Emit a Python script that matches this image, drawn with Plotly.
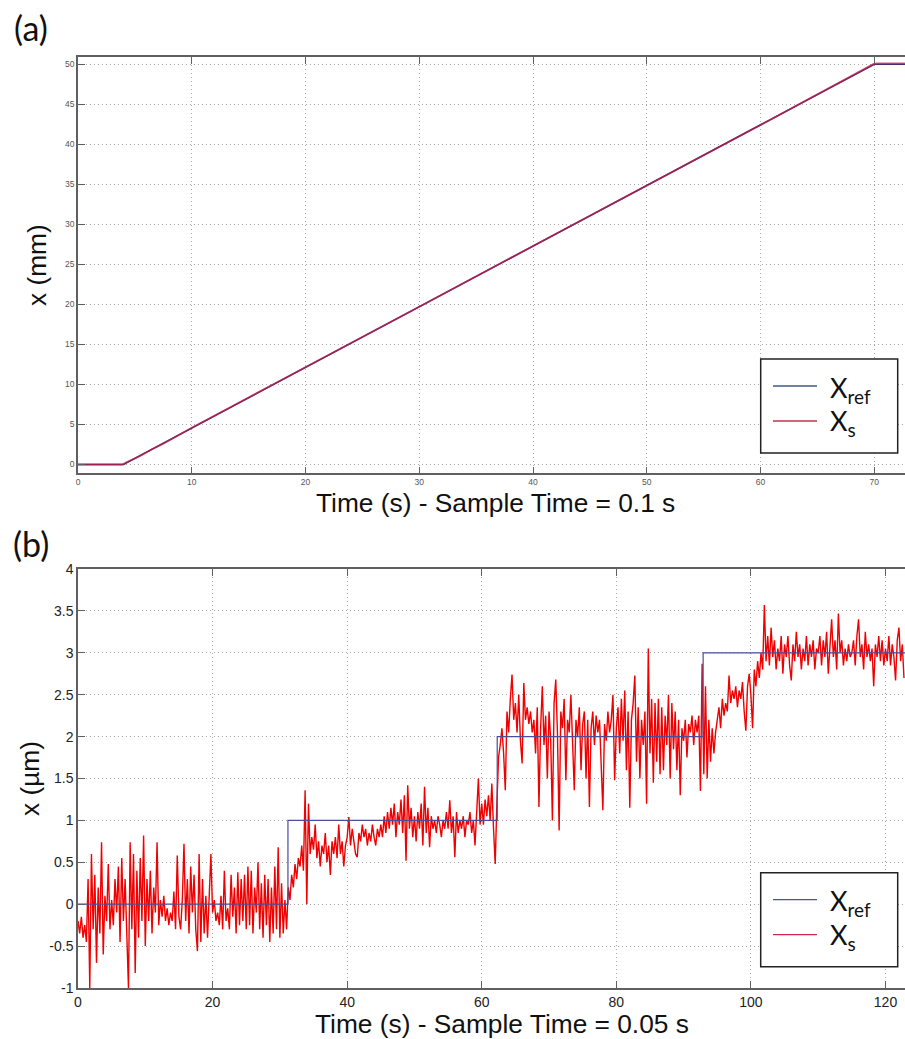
import plotly.graph_objects as go

W, H = 905, 1039

# ---------------- panel (a) data ----------------
a_ref_t = [0, 4.0, 70.0, 72.7]
a_ref_x = [0, 0, 50, 50]
a_s_t = [0, 3.9, 4.3, 4.8, 5.5, 6.5, 7.5, 10, 20, 30, 40, 50, 60, 69.9, 70.2, 72.7]
a_s_x = [0, 0, 0.3, 0.6, 1.1, 1.9, 2.6, 4.6, 12.1, 19.7, 27.3, 34.85, 42.4, 50.0, 50.1, 50.1]
a_xticks = [0, 10, 20, 30, 40, 50, 60, 70]
a_yticks = [0, 5, 10, 15, 20, 25, 30, 35, 40, 45, 50]

# ---------------- panel (b) data ----------------
DT_B = 0.25  # spacing of the values (s)
b_s_x = [
    -0.20, -0.35, -0.15, -0.40, -0.25, -0.45, 0.30, -1.00, 0.60, -0.30, 0.35, -0.70, 0.20, -0.35, 0.74, -0.60, 0.10, -0.20, 0.48, -0.30,
    0.05, -0.25, 0.30, -0.10, 0.45, -0.45, 0.55, -0.20, 0.30, -0.50, -1.00, 0.74, -0.30, 0.60, -0.82, 0.40, -0.40, 0.55, -0.20, 0.82,
    -0.50, 0.30, -0.20, 0.40, -0.35, 0.20, -0.10, 0.74, -0.25, 0.05, -0.15, 0.10, -0.20, -0.05, -0.25, -0.10, -0.20, 0.15, -0.30, 0.58,
    -0.15, -0.30, 0.05, 0.72, -0.20, 0.30, -0.35, 0.45, -0.10, 0.35, -0.30, -0.56, 0.60, -0.45, 0.30, -0.35, 0.10, -0.40, 0.20, 0.60,
    -0.10, 0.05, -0.20, -0.10, -0.25, 0.10, -0.30, 0.40, -0.20, -0.05, -0.30, 0.35, -0.15, 0.20, -0.35, 0.38, -0.25, 0.30, -0.20, 0.35,
    -0.30, 0.45, -0.25, 0.40, -0.35, 0.20, -0.10, 0.50, -0.30, 0.25, -0.40, 0.35, -0.25, 0.30, -0.45, 0.20, -0.35, 0.45, -0.30, 0.68,
    -0.40, 0.25, -0.35, 0.05, -0.30, 0.20, 0.05, 0.35, 0.20, 0.48, 0.30, 0.55, 0.45, 0.70, 0.40, 1.36, 0.00, 1.20, 0.60, 0.80,
    0.65, 0.95, 0.55, 0.75, 0.45, 0.70, 0.60, 0.85, 0.50, 0.70, 0.35, 0.75, 0.60, 0.80, 0.55, 0.95, 0.60, 0.75, 0.45, 0.70,
    0.80, 1.04, 0.70, 0.90, 0.75, 0.60, 0.56, 0.85, 0.75, 0.95, 0.80, 0.90, 0.70, 0.85, 0.75, 0.95, 0.80, 0.70, 0.90, 0.80,
    0.95, 0.80, 1.05, 0.85, 1.10, 0.90, 1.15, 0.95, 1.20, 0.80, 1.10, 0.95, 1.25, 0.85, 1.30, 0.52, 1.42, 0.90, 1.15, 0.80,
    1.05, 0.75, 1.10, 0.90, 1.20, 0.70, 1.40, 0.85, 1.15, 0.68, 1.05, 0.90, 1.00, 0.85, 1.05, 0.95, 0.80, 1.00, 0.90, 1.10,
    0.90, 1.24, 0.85, 1.05, 0.56, 1.10, 0.85, 1.00, 0.90, 1.05, 0.80, 1.00, 0.95, 1.10, 0.85, 1.00, 0.70, 1.05, 1.50, 0.95,
    1.20, 0.95, 1.25, 1.05, 1.30, 1.00, 1.44, 0.90, 0.48, 1.20, 1.76, 1.90, 2.10, 1.80, 1.36, 2.30, 2.05, 2.45, 2.74, 2.20,
    2.40, 2.05, 2.50, 1.95, 1.68, 2.64, 2.20, 2.35, 2.15, 2.30, 2.05, 2.20, 1.80, 2.35, 1.16, 2.10, 2.60, 1.90, 2.25, 1.50,
    2.30, 1.95, 1.00, 2.40, 2.68, 2.05, 0.88, 2.30, 2.10, 2.45, 1.48, 2.20, 2.05, 2.50, 1.90, 1.36, 2.20, 2.00, 2.35, 1.60,
    2.15, 2.30, 1.50, 2.20, 1.16, 2.10, 2.30, 1.90, 2.25, 2.05, 2.20, 1.70, 1.12, 2.15, 1.95, 2.30, 2.05, 2.20, 2.50, 1.48,
    2.10, 2.35, 1.80, 2.45, 1.95, 2.55, 1.60, 2.30, 1.15, 2.20, 2.40, 2.73, 1.70, 2.35, 1.50, 2.20, 1.90, 2.30, 1.20, 3.05,
    1.80, 2.45, 1.45, 2.40, 1.70, 2.45, 1.55, 2.35, 1.60, 2.25, 1.90, 2.50, 1.50, 2.40, 1.85, 2.30, 1.60, 2.20, 1.30, 2.10,
    1.95, 2.20, 1.75, 2.15, 2.05, 2.25, 1.90, 2.20, 2.05, 2.25, 1.35, 2.87, 1.55, 2.60, 1.50, 2.20, 1.70, 2.10, 1.80, 2.05,
    2.20, 2.35, 2.10, 2.45, 2.25, 2.40, 2.30, 2.73, 2.40, 2.55, 2.45, 2.60, 2.35, 2.55, 2.45, 2.65, 2.30, 2.07, 2.60, 2.75,
    2.50, 2.10, 2.80, 2.60, 2.90, 2.70, 3.00, 2.80, 3.57, 2.90, 3.20, 2.85, 3.30, 2.95, 3.15, 2.80, 3.05, 2.90, 3.20, 2.75,
    3.10, 2.95, 3.20, 2.85, 2.67, 3.10, 2.90, 3.25, 2.95, 3.10, 2.80, 3.05, 2.90, 3.20, 2.85, 3.10, 2.95, 3.15, 2.80, 3.05,
    3.00, 3.20, 2.85, 3.15, 2.95, 3.25, 2.75, 3.10, 3.40, 2.95, 3.15, 2.80, 3.47, 3.00, 3.15, 2.85, 3.05, 2.90, 3.10, 2.95,
    3.00, 3.15, 2.85, 3.20, 3.40, 2.95, 3.10, 2.80, 3.25, 2.95, 3.10, 2.90, 3.05, 2.60, 3.10, 2.95, 3.20, 2.90, 3.15, 2.85,
    3.05, 2.90, 3.20, 2.85, 3.10, 2.95, 2.67, 3.15, 3.30, 2.90, 3.10, 2.70,
]
b_s_t = [i * DT_B for i in range(len(b_s_x))]
b_ref_t = [0, 31.2, 31.2, 62.3, 62.3, 92.9, 92.9, 122.9]
b_ref_x = [0, 0, 1, 1, 2, 2, 3, 3]
b_xticks = [0, 20, 40, 60, 80, 100, 120]
b_yticks = [-1, -0.5, 0, 0.5, 1, 1.5, 2, 2.5, 3, 3.5, 4]
b_ytext = ["-1", "-0.5", "0", "0.5", "1", "1.5", "2", "2.5", "3", "3.5", "4"]


def px(x):
    return x / W


def py(y):
    return 1 - y / H


fig = go.Figure()

# panel (a)
fig.add_trace(go.Scatter(x=a_ref_t, y=a_ref_x, mode="lines", name="X<sub>ref</sub>",
                         line=dict(color="#2b2f7a", width=1.6), xaxis="x", yaxis="y", showlegend=False))
fig.add_trace(go.Scatter(x=a_s_t, y=a_s_x, mode="lines", name="X<sub>s</sub>",
                         line=dict(color="rgba(205,25,65,0.7)", width=1.8), xaxis="x", yaxis="y", showlegend=False))
# panel (b)
fig.add_trace(go.Scatter(x=b_s_t, y=b_s_x, mode="lines", name="X<sub>s</sub>",
                         line=dict(color="#f00000", width=1.4), xaxis="x2", yaxis="y2", showlegend=False))
fig.add_trace(go.Scatter(x=b_ref_t, y=b_ref_x, mode="lines", name="X<sub>ref</sub>",
                         line=dict(color="#4a4c9c", width=1.2), xaxis="x2", yaxis="y2", showlegend=False))

axis_common = dict(
    showline=True, linecolor="#606060", linewidth=1.5,
    ticks="inside", ticklen=7, tickcolor="#606060", tickwidth=1,
    showgrid=True, gridcolor="#a8a8a8", gridwidth=1, griddash="1px,3px",
    zeroline=False, fixedrange=True, automargin=False,
)

xdom = [px(78), 1]
fig.update_layout(
    width=W, height=H,
    margin=dict(l=0, r=0, t=0, b=0, pad=0),
    paper_bgcolor="white", plot_bgcolor="white",
    xaxis=dict(domain=xdom, anchor="y", range=[0, 72.7], tickvals=a_xticks, mirror="allticks",
               tickfont=dict(family="Liberation Sans, Arial", size=8.5, color="#555"), **axis_common),
    yaxis=dict(domain=[py(473.3), py(57)], anchor="x", range=[-1.1, 50.9], tickvals=a_yticks,
               tickfont=dict(family="Liberation Sans, Arial", size=8.5, color="#555"), **axis_common),
    xaxis2=dict(domain=xdom, anchor="y2", range=[0, 122.9], tickvals=b_xticks, mirror="allticks",
                tickfont=dict(family="Liberation Sans, Arial", size=14, color="#222"), **axis_common),
    yaxis2=dict(domain=[py(988), py(569)], anchor="x2", range=[-1, 4], tickvals=b_yticks, ticktext=b_ytext,
                tickfont=dict(family="Liberation Sans, Arial", size=14, color="#222"), **axis_common),
)

ann = []
title_font = dict(family="Liberation Sans, Arial", size=26.3, color="#111")
ann.append(dict(text="Time (s) - Sample Time = 0.1 s", x=px(496), y=py(503), xref="paper", yref="paper",
                showarrow=False, xanchor="center", yanchor="middle", font=title_font))
ann.append(dict(text="Time (s) - Sample Time = 0.05 s", x=px(502), y=py(1024), xref="paper", yref="paper",
                showarrow=False, xanchor="center", yanchor="middle", font=title_font))
ann.append(dict(text="x (mm)", x=px(37), y=py(265), xref="paper", yref="paper", textangle=-90,
                showarrow=False, xanchor="center", yanchor="middle", font=title_font))
ann.append(dict(text="x (µm)", x=px(30), y=py(779), xref="paper", yref="paper", textangle=-90,
                showarrow=False, xanchor="center", yanchor="middle", font=title_font))
panel_font = dict(family="Lato, Calibri", size=34, color="#111")
ann.append(dict(text="(a)", x=px(31), y=py(27), xref="paper", yref="paper",
                showarrow=False, xanchor="center", yanchor="middle", font=panel_font))
ann.append(dict(text="(b)", x=px(31), y=py(543), xref="paper", yref="paper",
                showarrow=False, xanchor="center", yanchor="middle", font=panel_font))

shapes = []
leg_font = dict(family="Lato, Calibri", size=27, color="#111")
for top in (359, 872.7):
    shapes.append(dict(type="rect", xref="paper", yref="paper", x0=px(760.7), x1=px(897.7),
                       y0=py(top + 94), y1=py(top), line=dict(color="#222", width=1.5), fillcolor="white"))
    shapes.append(dict(type="line", xref="paper", yref="paper", x0=px(773), x1=px(817),
                       y0=py(top + 27), y1=py(top + 27), line=dict(color="#3f5a85", width=1.3)))
    shapes.append(dict(type="line", xref="paper", yref="paper", x0=px(773), x1=px(817),
                       y0=py(top + 62), y1=py(top + 62), line=dict(color="#c8304a", width=1.3)))
    ann.append(dict(text="X<sub>ref</sub>", x=px(828), y=py(top + 30), xref="paper", yref="paper",
                    showarrow=False, xanchor="left", yanchor="middle", font=leg_font))
    ann.append(dict(text="X<sub>s</sub>", x=px(828), y=py(top + 64), xref="paper", yref="paper",
                    showarrow=False, xanchor="left", yanchor="middle", font=leg_font))

fig.update_layout(annotations=ann, shapes=shapes)

page_fix = (
    "document.documentElement.style.margin='0';"
    "document.documentElement.style.padding='0';"
    "document.documentElement.style.overflow='hidden';"
    "document.body.style.margin='0';"
    "document.body.style.padding='0';"
    "document.body.style.overflow='hidden';"
)
fig.write_html("out.html", post_script=page_fix, config={"displayModeBar": False})
